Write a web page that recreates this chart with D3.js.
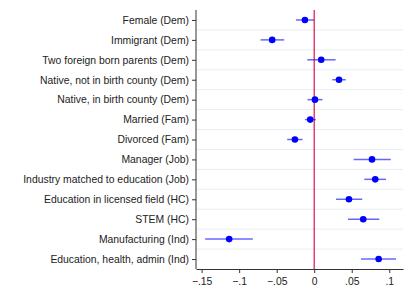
<!DOCTYPE html>
<html lang="en">
<head>
    <meta charset="utf-8">
    <title>Coefficient plot</title>
    <style type="text/css">
        body{ margin:0; background:#fff; }
        .coef text{ font-family: "Liberation Sans", Arial, sans-serif; fill:#222; }
        .coef .axis path, .coef .axis line{ stroke:#333; }
    </style>
</head>
<body>
   <svg class="coef" width="413" height="300"></svg>

   <script src="https://d3js.org/d3.v7.min.js"></script>
   <script>
        // 变量名称
        var labels = ['Female (Dem)', 'Immigrant (Dem)', 'Two foreign born parents (Dem)',
            'Native, not in birth county (Dem)', 'Native, in birth county (Dem)',
            'Married (Fam)', 'Divorced (Fam)', 'Manager (Job)',
            'Industry matched to education (Job)', 'Education in licensed field (HC)',
            'STEM (HC)', 'Manufacturing (Ind)', 'Education, health, admin (Ind)'];
        // 系数与置信区间
        var coef = [-0.0124, -0.056, 0.0093, 0.033, 0.001, -0.0053, -0.0257,
                    0.077, 0.0813, 0.0463, 0.0653, -0.1133, 0.0859];
        var lower = [-0.0244, -0.0715, -0.0093, 0.024, -0.009, -0.0124, -0.036,
                     0.0525, 0.0667, 0.029, 0.045, -0.1453, 0.0623];
        var upper = [-0.0004, -0.040, 0.0285, 0.042, 0.011, 0.002, -0.0155,
                     0.102, 0.0956, 0.064, 0.0867, -0.0817, 0.109];
        var xticks = [-0.15, -0.1, -0.05, 0, 0.05, 0.1];

        var svg = d3.select('.coef'),
            padding = {left: 196, right: 10, top: 10, bottom: 31},
            w = 413 - padding.left - padding.right,
            h = 300 - padding.top - padding.bottom;

        var g = svg.append('g')
                    .attr('transform', 'translate(' + padding.left + ',' + padding.top + ')');

        var xscale = d3.scaleLinear().domain([-0.1575, 0.1183]).range([0, w]);
        var yscale = d3.scalePoint().domain(labels).range([0, h]).padding(0.5);
        var step = yscale.step();

        // 网格线
        g.selectAll('.grid')
            .data(labels.slice(1))
            .enter()
            .append('line')
            .attr('x1', 0).attr('x2', w)
            .attr('y1', function(d){ return yscale(d) - step/2; })
            .attr('y2', function(d){ return yscale(d) - step/2; })
            .attr('stroke', '#e6eff2').attr('stroke-width', 1);

        // 坐标轴
        var fmt = function(d){ return d === 0 ? '0' : d3.format('.2~f')(d).replace('0.', '.'); };
        g.append('g')
            .attr('class', 'axis')
            .attr('transform', 'translate(0,' + h + ')')
            .call(d3.axisBottom(xscale).tickValues(xticks).tickFormat(fmt).tickSize(4).tickSizeOuter(0))
            .call(function(a){ a.selectAll('text').attr('font-size', 10.4).attr('font-family', '"Liberation Sans", Arial, sans-serif').attr('dy', '0.9em'); });

        g.append('g')
            .attr('class', 'axis')
            .call(d3.axisLeft(yscale).tickSize(4).tickSizeOuter(0))
            .call(function(a){
                a.select('.domain').attr('d', 'M0,0V' + h);
                a.selectAll('text').attr('font-size', 10.4).attr('font-family', '"Liberation Sans", Arial, sans-serif');
            });

        // 零线
        g.append('line')
            .attr('x1', xscale(0)).attr('x2', xscale(0))
            .attr('y1', 0).attr('y2', h)
            .attr('stroke', '#e0245a').attr('stroke-width', 1.3);

        // 置信区间
        g.selectAll('.ci')
            .data(labels)
            .enter()
            .append('line')
            .attr('x1', function(d, i){ return xscale(lower[i]); })
            .attr('x2', function(d, i){ return xscale(upper[i]); })
            .attr('y1', function(d){ return yscale(d); })
            .attr('y2', function(d){ return yscale(d); })
            .attr('stroke', '#0000ff').attr('stroke-opacity', 0.6).attr('stroke-width', 1.5);

        // 系数点
        g.selectAll('.pt')
            .data(labels)
            .enter()
            .append('circle')
            .attr('cx', function(d, i){ return xscale(coef[i]); })
            .attr('cy', function(d){ return yscale(d); })
            .attr('r', 3.3)
            .attr('fill', '#0000ff');
   </script>
</body>
</html>
